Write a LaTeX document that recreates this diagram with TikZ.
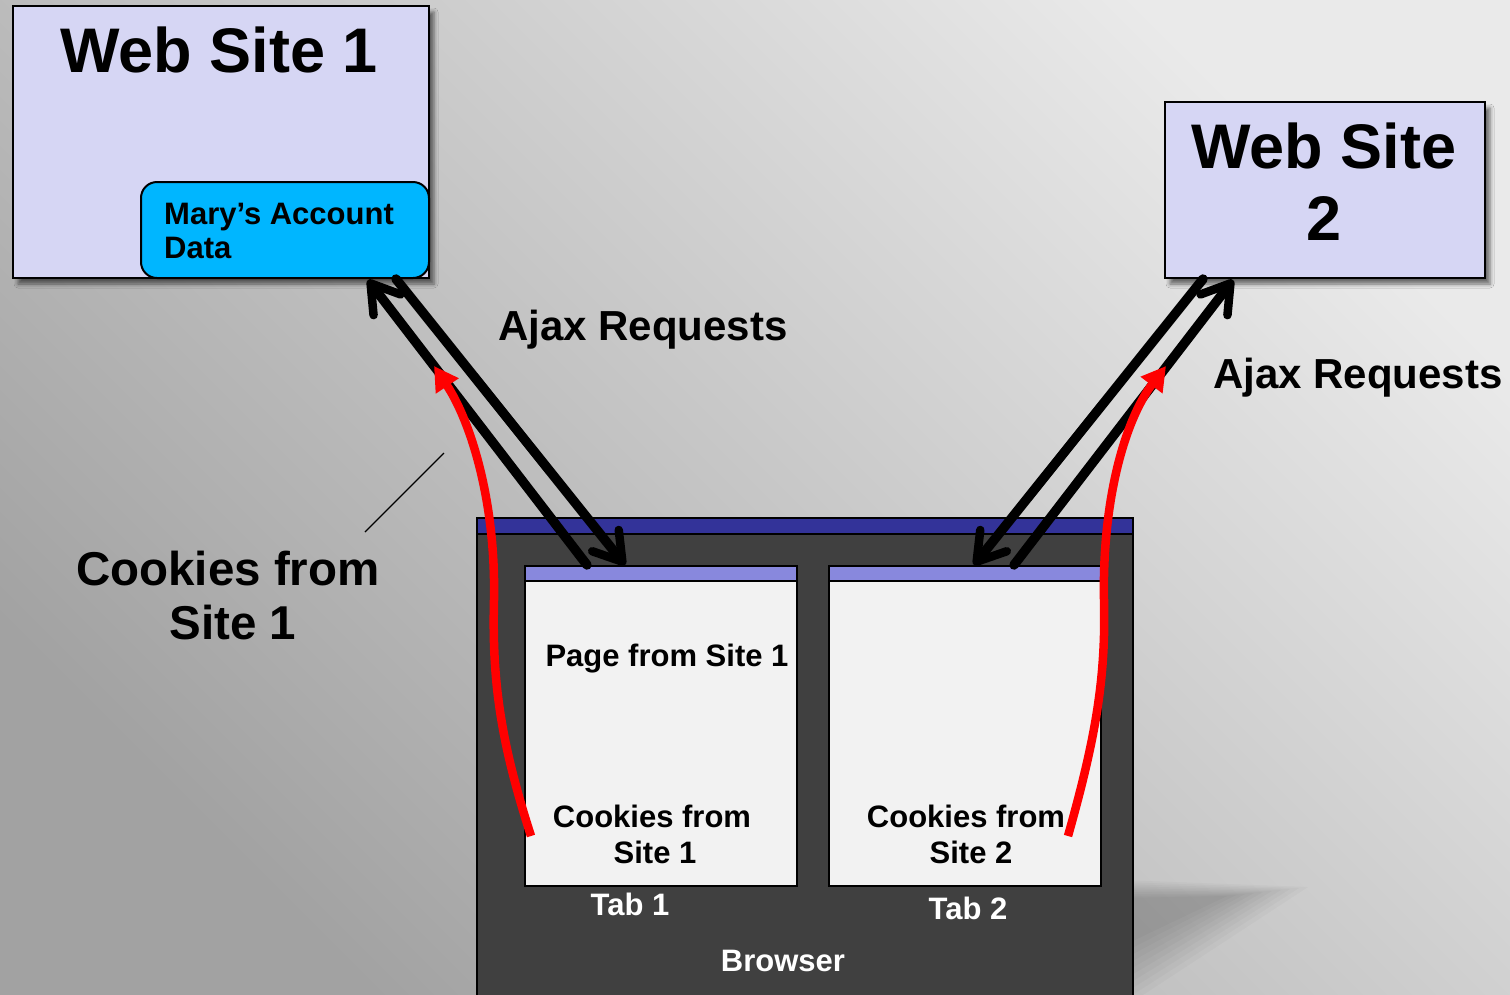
\documentclass[tikz,border=0pt]{standalone}
\usepackage{fontspec}
\setmainfont{Liberation Sans}
\usetikzlibrary{arrows.meta,shadows.blur}

\definecolor{sitefill}{HTML}{D6D6F4}
\definecolor{datafill}{HTML}{00B6FF}
\definecolor{browserbody}{HTML}{404040}
\definecolor{browserbar}{HTML}{333399}
\definecolor{tabbar}{HTML}{8888DD}
\definecolor{tabbody}{HTML}{F2F2F2}
\definecolor{bgdark}{HTML}{A2A2A2}
\definecolor{bglight}{HTML}{EAEAEA}

\begin{document}
\begin{tikzpicture}[x=1pt,y=-1pt,
  box/.style={draw=black, line width=2pt, inner sep=0pt, anchor=north west},
  sitebox/.style={box, fill=sitefill,
    blur shadow={shadow xshift=5pt, shadow yshift=-6pt, shadow blur radius=4pt, shadow opacity=55}},
  txt/.style={inner sep=0pt, anchor=base, font=\bfseries},
  huge/.style={font=\fontsize{63}{72}\bfseries\selectfont},
  big/.style={font=\fontsize{47.5}{55}\bfseries\selectfont},
  mid/.style={font=\fontsize{42}{50}\bfseries\selectfont},
  small/.style={font=\fontsize{31}{36}\bfseries\selectfont},
  req/.style={line width=9.5pt, line cap=round,
    -{Straight Barb[length=27pt, width=34pt, line width=8.5pt, round]}},
  cookie/.style={red, line width=8.5pt,
    -{Triangle[length=24pt, width=26pt]}}]

% background
\shade[top color=bglight, bottom color=bgdark, shading angle=-45]
  (0,0) rectangle (1510,994);
\useasboundingbox (0,0) rectangle (1510,994);

% soft shadow cast by the browser window, built up from thin layers
\foreach \k in {0,...,9}
  \fill[black, opacity=0.025]
    (1120,880+2*\k) -- (1308-9*\k,887+\k) -- (1120,1010-7*\k) -- cycle;

% servers
\node[sitebox, minimum width=416pt, minimum height=272pt] (ws1) at (12,5) {};
\node[box, fill=datafill, rounded corners=16pt, minimum width=288pt, minimum height=96pt] (data) at (140,181) {};
\node[sitebox, minimum width=320pt, minimum height=176pt] (ws2) at (1164,101) {};

% browser window
\node[box, fill=browserbody, minimum width=656pt, minimum height=500pt] (browser) at (476,517) {};
\node[box, fill=browserbar, minimum width=656pt, minimum height=16pt] (bbar) at (476,517) {};

% tabs
\node[box, fill=tabbody, minimum width=272pt, minimum height=320pt] (tab1) at (524,565) {};
\node[box, fill=tabbar, minimum width=272pt, minimum height=15pt] (tab1bar) at (524,565) {};
\node[box, fill=tabbody, minimum width=272pt, minimum height=320pt] (tab2) at (828,565) {};
\node[box, fill=tabbar, minimum width=272pt, minimum height=15pt] (tab2bar) at (828,565) {};

% labels
\node[txt, huge] (ws1t) at (219,72) {Web Site 1};
\node[txt, huge] (ws2ta) at (1324,168) {Web Site};
\node[txt, huge] (ws2tb) at (1324,240) {2};
\node[txt, small, anchor=base west] (datata) at (164,224) {Mary’s Account};
\node[txt, small, anchor=base west] (datatb) at (164,258) {Data};
\node[txt, mid] (ajax1) at (643,340) {Ajax Requests};
\node[txt, mid] (ajax2) at (1358,388) {Ajax Requests};
\node[txt, big] (cka) at (228,585) {Cookies from};
\node[txt, big] (ckb) at (233,639) {Site 1};
\node[txt, small] (page1) at (667,666) {Page from Site 1};
\node[txt, small] (c1a) at (652,827) {Cookies from};
\node[txt, small] (c1b) at (655,863) {Site 1};
\node[txt, small] (c2a) at (966,827) {Cookies from};
\node[txt, small] (c2b) at (971,863) {Site 2};
\node[txt, small, white] (tab1t) at (630,915) {Tab 1};
\node[txt, small, white] (tab2t) at (968,919) {Tab 2};
\node[txt, small, white] (brt) at (783,971) {Browser};

% pointer for the cookie label
\coordinate (ptrA) at (365,532);
\coordinate (ptrB) at (444,453);
\draw[line width=1.3pt] (ptrA) -- (ptrB);

% ajax requests, site 1
\coordinate (r1a) at (587,565);
\coordinate (r1b) at (368,280);
\coordinate (r2a) at (396,279);
\coordinate (r2b) at (625,565);
\draw[req] (r1a) -- (r1b);
\draw[req] (r2a) -- (r2b);

% ajax requests, site 2
\coordinate (r3a) at (1203,279);
\coordinate (r3b) at (974,565);
\coordinate (r4a) at (1014,565);
\coordinate (r4b) at (1233,280);
\draw[req] (r3a) -- (r3b);
\draw[req] (r4a) -- (r4b);

% cookies sent along with the requests
\coordinate (k1a) at (531,836);
\coordinate (k1m) at (494,600);
\coordinate (k1b) at (434,366);
\draw[cookie] (k1a) .. controls (500,740) and (492,680) .. (k1m)
  .. controls (496,500) and (470,420) .. (k1b);
\coordinate (k2a) at (1068,836);
\coordinate (k2m) at (1104,600);
\coordinate (k2b) at (1166,366);
\draw[cookie] (k2a) .. controls (1095,740) and (1106,680) .. (k2m)
  .. controls (1102,500) and (1125,420) .. (k2b);
\end{tikzpicture}
\end{document}
